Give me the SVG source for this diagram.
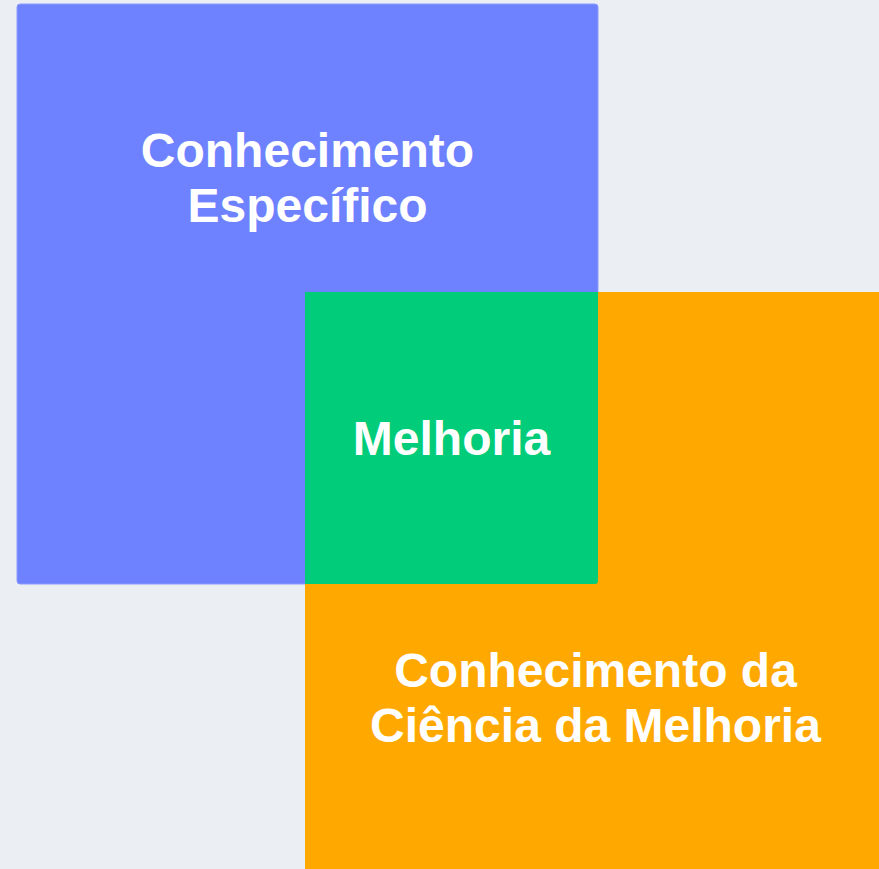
<svg xmlns="http://www.w3.org/2000/svg" width="879" height="869" viewBox="0 0 879 869">
<style>
.t{font-family:"Liberation Sans",Arial,sans-serif;font-weight:bold;font-size:48px;fill:#ffffff;text-anchor:middle}
</style>
<rect x="0" y="0" width="879" height="869" fill="#ebeff3"/>
<g id="node-especifico">
<rect x="17" y="4" width="581" height="580" rx="3" fill="#6e82ff" stroke="#8d9bff" stroke-width="1"/>
<text class="t" x="307.5" y="167">Conhecimento</text>
<text class="t" x="307.5" y="222">Específico</text>
</g>
<g id="node-ciencia">
<rect x="305" y="292" width="590" height="590" fill="#ffa800"/>
<text class="t" x="595.5" y="687">Conhecimento da</text>
<text class="t" x="595.5" y="742">Ciência da Melhoria</text>
</g>
<g id="node-melhoria">
<path d="M305 292 H598 V581 Q598 584 595 584 H305 Z" fill="#00cc7a"/>
<text class="t" x="451.5" y="455">Melhoria</text>
</g>
<g id="connectors"></g>
</svg>
